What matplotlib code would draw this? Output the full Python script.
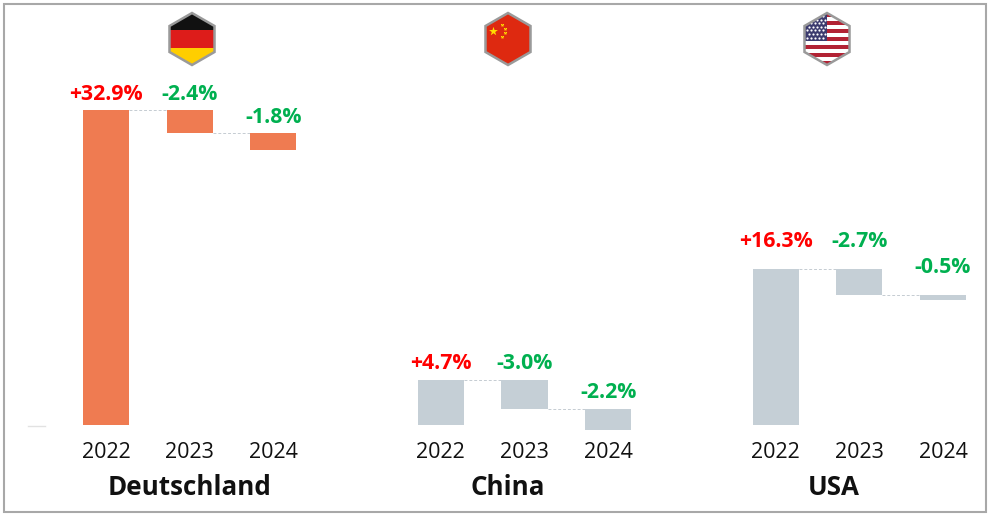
import matplotlib
matplotlib.use("Agg")
import matplotlib.pyplot as plt
from matplotlib.patches import Polygon, Rectangle
from matplotlib.transforms import blended_transform_factory, offset_copy
import numpy as np

plt.rcParams['font.family'] = ['Open Sans', 'DejaVu Sans']

# ---- data ----
groups = ['Deutschland', 'China', 'USA']
years = ['2022', '2023', '2024']
changes_de = [32.9, -2.4, -1.8]
changes_cn = [4.7, -3.0, -2.2]
changes_us = [16.3, -2.7, -0.5]
labels_de = ['+32.9%', '-2.4%', '-1.8%']
labels_cn = ['+4.7%', '-3.0%', '-2.2%']
labels_us = ['+16.3%', '-2.7%', '-0.5%']

changes = [changes_de, changes_cn, changes_us]
labels = [labels_de, labels_cn, labels_us]
bar_colors = ['#EF7B51', '#C5CFD6', '#C5CFD6']
label_gap_px = [10, 11, 22]
POS_COL = '#FF0000'
NEG_COL = '#00B050'

W, H = 990, 517
fig = plt.figure(figsize=(W / 100, H / 100), dpi=100)
ax = fig.add_axes([0, 0, 1, 1])
px_x0, px_step = 106.0, 83.7
base_px, y_scale = 425.0, 9.574
ax.set_xlim(-px_x0 / px_step, (W - px_x0) / px_step)
ax.set_ylim(-(H - base_px) / y_scale, base_px / y_scale)
ax.axis('off')

bw = 0.55
fig_tr = blended_transform_factory(ax.transData, fig.transFigure)
for g, (gname, ch, lab) in enumerate(zip(groups, changes, labels)):
    cum = 0.0
    xs = [g * 4 + i for i in range(len(ch))]
    for i, (c, l) in enumerate(zip(ch, lab)):
        start, end = cum, cum + c
        bottom, top = min(start, end), max(start, end)
        ax.bar(xs[i], top - bottom, bottom=bottom, width=bw, color=bar_colors[g], zorder=2)
        if i < len(ch) - 1:
            ax.plot([xs[i] + bw / 2, xs[i + 1] - bw / 2], [end, end], ls=(0, (3, 2)),
                    color='#C5CCD2', lw=0.7, zorder=1)
        tr = offset_copy(ax.transData, fig=fig, x=0, y=label_gap_px[g], units='dots')
        ax.text(xs[i], max(start, end) if c > 0 else start, l, transform=tr,
                ha='center', va='baseline', fontsize=15.3, fontweight='bold',
                color=POS_COL if c > 0 else NEG_COL)
        ax.text(xs[i], 1 - 458 / H, years[i], transform=fig_tr, ha='center',
                va='baseline', fontsize=15.5, color='#111111')
        cum = end

# ---- decoration overlay in pixel coords ----
ov = fig.add_axes([0, 0, 1, 1], zorder=5)
ov.set_xlim(0, W)
ov.set_ylim(H, 0)
ov.axis('off')
ov.patch.set_alpha(0)

group_label_x = [190, 508, 834]
for gx, gname in zip(group_label_x, groups):
    ov.text(gx, 495, gname, ha='center', va='baseline', fontsize=18.7,
            fontweight='bold', color='#111111')

ov.add_patch(Rectangle((4, 4), W - 8, H - 9, fill=False, ec='#A8A8A8', lw=1.5))
ov.plot([28, 45], [426, 426], color='#E2E2E2', lw=1)


def hexagon(cx, cy, r):
    ang = np.deg2rad(np.arange(6) * 60 + 90)
    return np.column_stack([cx + r * np.cos(ang), cy - r * np.sin(ang)])


def flag(cx, cy, r, kind):
    pts = hexagon(cx, cy, r)
    clip = Polygon(pts, closed=True, fc='none', ec='none')
    ov.add_patch(clip)
    w = r * np.sqrt(3)
    x0, y0 = cx - w / 2, cy - r
    arts = []
    if kind == 'de':
        for k, col in enumerate(['#111111', '#DD1C1A', '#FFCE00']):
            arts.append(ov.add_patch(Rectangle((x0, y0 + k * 2 * r / 3), w, 2 * r / 3, fc=col, ec='none')))
    elif kind == 'cn':
        arts.append(ov.add_patch(Rectangle((x0, y0), w, 2 * r, fc='#DE2910', ec='none')))
        s1 = ov.scatter([cx - 15], [cy - 8], marker='*', s=45, c='#FFDE00', lw=0)
        s2 = ov.scatter([cx - 6, cx - 3, cx - 3, cx - 6], [cy - 14, cy - 10, cy - 6, cy - 2],
                        marker='*', s=7, c='#FFDE00', lw=0)
        arts += [s1, s2]
    elif kind == 'us':
        sh = 2 * r / 13
        for k in range(13):
            col = '#B22234' if k % 2 == 0 else '#FFFFFF'
            arts.append(ov.add_patch(Rectangle((x0, y0 + k * sh), w, sh, fc=col, ec='none')))
        arts.append(ov.add_patch(Rectangle((x0, y0), cx - x0, 7 * sh, fc='#3C3B6E', ec='none')))
        sx, sy = [], []
        for row in range(7):
            for col in range(6):
                xx = x0 + 3 + col * 3.8 + (1.9 if row % 2 else 0)
                yy = y0 + 3 + row * 3.6
                if xx < cx - 1.5:
                    sx.append(xx)
                    sy.append(yy)
        arts.append(ov.scatter(sx, sy, s=2.5, c='white', lw=0))
    for a in arts:
        a.set_clip_path(clip)
    ov.add_patch(Polygon(pts, closed=True, fc='none', ec='#9A9A9A', lw=1.8))


flag(192, 39, 26, 'de')
flag(508, 39, 26, 'cn')
flag(827, 39, 26, 'us')

fig.savefig('out.png', dpi=100)
